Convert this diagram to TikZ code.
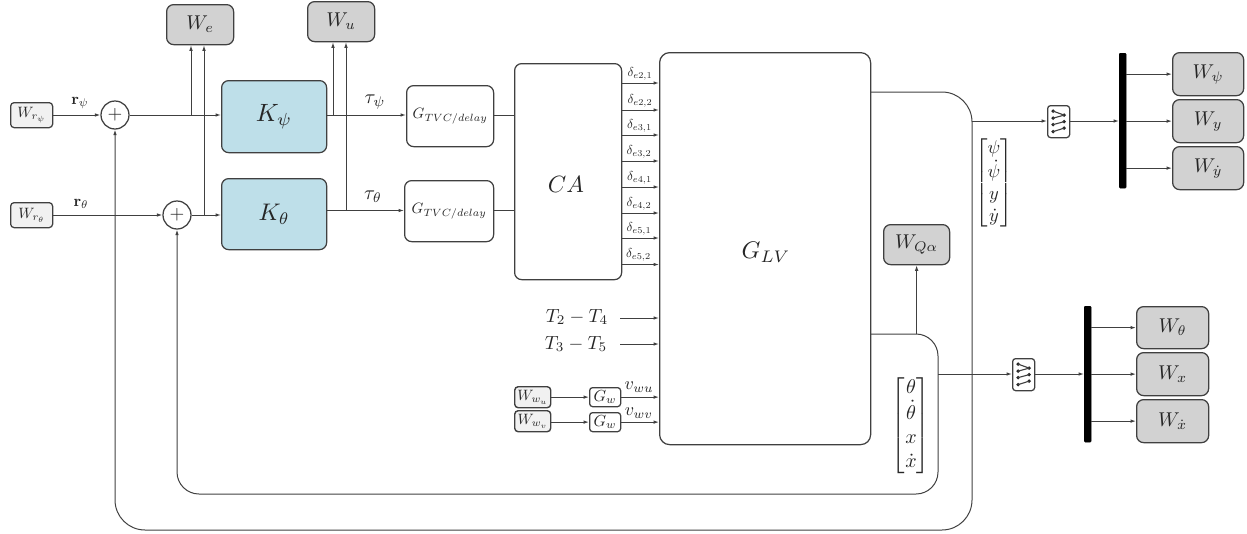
\documentclass[tikz,border=0pt]{standalone}
\usepackage{amsmath}
\usepackage{graphicx}
\usetikzlibrary{arrows.meta}
\definecolor{ln}{HTML}{404040}
\definecolor{wgray}{HTML}{D2D2D2}
\definecolor{wlight}{HTML}{F1F1F1}
\definecolor{kblue}{HTML}{BEDFE9}
\newcommand{\mtx}[2]{\scalebox{#1}{$#2$}}
\tikzset{
  every node/.style={text=black!85},
  conn/.style={draw=ln,line width=1pt},
  arr/.style={conn,-{Latex[length=5.5pt,width=3.6pt]}},
  blockb/.style={draw=ln,line width=1.25pt,rounded corners=7pt,inner sep=0pt,anchor=north west},
  wbox/.style={blockb,fill=wgray},
  lbox/.style={blockb,fill=wlight,rounded corners=3.5pt},
  kbox/.style={blockb,fill=kblue},
  lab/.style={inner sep=0pt},
  sumn/.style={circle,draw=ln,line width=1.25pt,fill=white,minimum size=28pt,inner sep=0pt},
  bus/.style={fill=black,draw=black,line width=0.3pt,rounded corners=1pt,inner sep=0pt,anchor=north west},
  dotm/.style={fill=black!85,circle,inner sep=0pt,minimum size=3.8pt}
}
\begin{document}
\begin{tikzpicture}[x=1pt,y=-1pt]
\useasboundingbox (0,0) rectangle (1247,533);
% top weight boxes
\node[wbox,minimum width=67pt,minimum height=40pt] (we) at (166,4) {\mtx{2}{W_e}};
\node[wbox,minimum width=67pt,minimum height=40pt] (wu) at (307,1) {\mtx{2}{W_u}};
\node[lbox,minimum width=42pt,minimum height=25pt] (wrp) at (10,102) {\mtx{1.5}{W_{r_\psi}}};
\node[lbox,minimum width=42pt,minimum height=25pt] (wrt) at (10,202) {\mtx{1.5}{W_{r_\theta}}};
\node[sumn] (s1) at (115,115) {\mtx{1.9}{+}};
\node[sumn] (s2) at (177,215) {\mtx{1.9}{+}};
\node[kbox,minimum width=105pt,minimum height=72pt] (kp) at (221,80) {\mtx{2.5}{K_\psi}};
\node[kbox,minimum width=105pt,minimum height=71pt] (kt) at (221,178) {\mtx{2.4}{K_\theta}};
\node[blockb,minimum width=87pt,minimum height=61pt] (g1) at (406,85) {\mtx{1.5}{G_{TVC/delay}}};
\node[blockb,minimum width=89pt,minimum height=61pt] (g2) at (404,180) {\mtx{1.5}{G_{TVC/delay}}};
\node[blockb,minimum width=107pt,minimum height=216pt] (ca) at (514,63) {};
\node[lab] (cat) at (566,184) {\mtx{2.35}{CA}};
\node[blockb,minimum width=211pt,minimum height=392pt,rounded corners=10pt] (lv) at (659,52) {};
\node[inner sep=0pt] (lvt) at (766,252) {\mtx{2.4}{G_{LV}}};
% connections left
\draw[arr] (wrp.east|-s1) -- (s1);
\draw[arr] (wrt.east|-s2) -- (s2);
\node[lab] (rp) at (80,103) {\mtx{1.6}{\mathbf{r}_\psi}};
\node[lab] (rt) at (81,204) {\mtx{1.6}{\mathbf{r}_\theta}};
\draw[arr] (s1) -- (kp.west|-s1);
\draw[arr] (s2) -- (kt.west|-s2);
\coordinate (t1) at (191,115);
\coordinate (t2) at (204,215);
\draw[arr] (t1) -- (t1|-we.south);
\draw[arr] (t2) -- (t2|-we.south);
\coordinate (t3) at (333,115);
\coordinate (t4) at (346,210.5);
\draw[arr] (kp.east|-t3) -- (g1.west|-t3);
\draw[arr] (kt.east|-t4) -- (g2.west|-t4);
\draw[arr] (t3) -- (t3|-wu.south);
\draw[arr] (t4) -- (t4|-wu.south);
\node[lab] (tp) at (375,102) {\mtx{2}{\tau_\psi}};
\node[lab] (tt) at (373,197) {\mtx{2}{\tau_\theta}};
\draw[conn] (g1.east|-t3) -- (ca.west|-t3);
\draw[conn] (g2.east|-t4) -- (ca.west|-t4);
% deltas
\foreach \n/\y/\i/\j/\xx in {a/83/2/1/640,b/110/2/2/640,c/135/3/1/639.5,d/161/3/2/639,e/187/4/1/639.5,f/213/4/2/639,g/238/5/1/639,h/264.5/5/2/638.5}{
  \coordinate (d\n) at (621,\y);
  \draw[arr] (d\n) -- (lv.west|-d\n);
  \node[lab,anchor=south] (dt\n) at (\xx,\y-3) {\mtx{1.3}{\delta_{e\i,\j}}};
}
% T inputs
\coordinate (ti1) at (620,318);
\coordinate (ti2) at (620,344);
\draw[arr] (ti1) -- (lv.west|-ti1);
\draw[arr] (ti2) -- (lv.west|-ti2);
\node[lab] (tt1) at (577,317) {\mtx{1.9}{T_2-T_4}};
\node[lab] (tt2) at (576,344) {\mtx{1.9}{T_3-T_5}};
% wind
\node[lbox,line width=1.4pt,minimum width=36pt,minimum height=21pt] (wwu) at (514,386) {\mtx{1.5}{W_{w_u}}};
\node[lbox,line width=1.4pt,minimum width=36pt,minimum height=21pt] (wwv) at (514,410) {\mtx{1.5}{W_{w_v}}};
\node[blockb,rounded corners=3pt,fill=white,minimum width=31pt,minimum height=19pt] (gwu) at (589,387) {\mtx{1.6}{G_w}};
\node[blockb,rounded corners=3pt,fill=white,minimum width=31pt,minimum height=19pt] (gwv) at (589,412) {\mtx{1.6}{G_w}};
\draw[arr] (wwu.east|-gwu) -- (gwu);
\draw[arr] (wwv.east|-gwv) -- (gwv);
\draw[arr] (gwu) -- (lv.west|-gwu);
\draw[arr] (gwv) -- (lv.west|-gwv);
\node[lab] (vu) at (639,387) {\mtx{1.8}{v_{wu}}};
\node[lab] (vv) at (639,413) {\mtx{1.8}{v_{wv}}};
% feedback loops
\coordinate (la) at (870,92);
\coordinate (lb) at (972,530);
\draw[arr,rounded corners=30pt] (la) -- (lb|-la) -- (lb) -- (s1|-lb) -- (s1);
\coordinate (lc) at (870,334);
\coordinate (ld) at (938,494);
\draw[arr,rounded corners=22pt] (lc) -- (ld|-lc) -- (ld) -- (s2|-ld) -- (s2);
% WQ
\node[wbox,minimum width=66pt,minimum height=40pt] (wq) at (883,224) {\mtx{2}{W_{Q\alpha}}};
\draw[arr] (wq.south|-lc) -- (wq.south);
% matrices
\node[lab] (m1) at (994,183) {\mtx{1.85}{\begin{bmatrix}\psi\\ \dot\psi\\ y\\ \dot y\end{bmatrix}}};
\node[lab] (m2) at (911,425.5) {\mtx{2}{\begin{bmatrix}\theta\\ \dot\theta\\ x\\ \dot x\end{bmatrix}}};
% muxes
\node[blockb,rounded corners=3pt,fill=white,minimum width=22pt,minimum height=32pt] (mx1) at (1047,105) {};
\node[blockb,rounded corners=3pt,fill=white,minimum width=22pt,minimum height=32pt] (mx2) at (1012,358) {};
\foreach \m in {mx1,mx2}{
  \begin{scope}[shift={(\m.center)}]
    \foreach \a/\b in {-5.5/-10.5,-5.5/-3.5,-5.5/3,-5.5/10}{\node[dotm] at (\a,\b) {};}
    \foreach \a/\b in {5.5/-6.5,5.5/0,5.5/6.5}{\node[dotm] at (\a,\b) {};}
    \draw[ln,line width=1.1pt] (-5.5,-10.5) -- (5.5,-6.5) (-5.5,-3.5) -- (5.5,-6.5) (-5.5,3) -- (5.5,0) (-5.5,10) -- (5.5,6.5);
  \end{scope}
}
% upper outputs
\coordinate (o1) at (972,121);
\draw[arr] (o1) -- (mx1.west|-o1);
\node[bus,minimum width=7pt,minimum height=135pt] (b1) at (1119,53) {};
\draw[arr] (mx1.east|-o1) -- (b1.west|-o1);
\node[wbox,minimum width=71pt,minimum height=43pt] (wp) at (1172,52) {\mtx{2}{W_\psi}};
\node[wbox,minimum width=71pt,minimum height=43pt] (wy) at (1172,99) {\mtx{2}{W_y}};
\node[wbox,minimum width=71pt,minimum height=43pt] (wyd) at (1172,146) {\mtx{2}{W_{\dot y}}};
\draw[arr] (b1.east|-wp.west) -- (wp.west);
\draw[arr] (b1.east|-wy.west) -- (wy.west);
\draw[arr] (b1.east|-wyd.west) -- (wyd.west);
% lower outputs
\coordinate (o2) at (938,374);
\draw[arr] (o2) -- (mx2.west|-o2);
\node[bus,minimum width=7pt,minimum height=136pt] (b2) at (1084,306) {};
\draw[arr] (mx2.east|-o2) -- (b2.west|-o2);
\node[wbox,minimum width=72pt,minimum height=42pt] (wth) at (1136,306) {\mtx{2}{W_\theta}};
\node[wbox,minimum width=72pt,minimum height=43pt] (wx) at (1136,352) {\mtx{2}{W_x}};
\node[wbox,minimum width=72pt,minimum height=43pt] (wxd) at (1136,399) {\mtx{2}{W_{\dot x}}};
\draw[arr] (b2.east|-wth.west) -- (wth.west);
\draw[arr] (b2.east|-wx.west) -- (wx.west);
\draw[arr] (b2.east|-wxd.west) -- (wxd.west);
\end{tikzpicture}
\end{document}
